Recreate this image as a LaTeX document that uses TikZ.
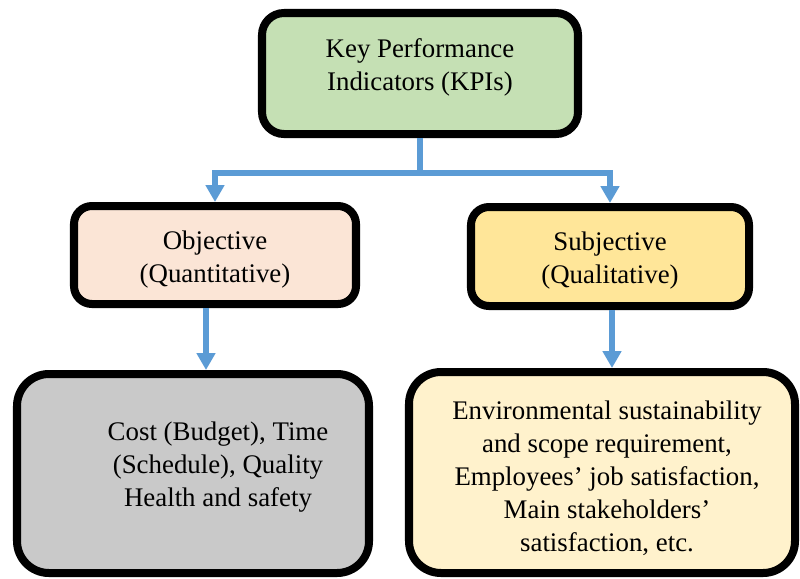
\documentclass[tikz,border=0pt]{standalone}
\usepackage{fontspec}
\setmainfont{Liberation Serif}
\usetikzlibrary{arrows.meta,positioning,calc}
\definecolor{kpigreen}{HTML}{C5E0B4}
\definecolor{objpeach}{HTML}{FBE5D6}
\definecolor{subjyellow}{HTML}{FFE699}
\definecolor{quantgrey}{HTML}{C9C9C9}
\definecolor{qualcream}{HTML}{FFF2CC}
\definecolor{linkblue}{HTML}{5B9BD5}
\tikzset{
	box/.style={draw=black, line width=5.7pt},
	boxtext/.style={align=center, font=\fontsize{19.1}{23.5}\selectfont},
	link/.style={draw=linkblue, line width=4.3pt},
	arrowline/.style={link, -{Triangle[length=4.2mm,width=4.5mm]}}
}

\begin{document}
\begin{tikzpicture}
	\useasboundingbox (0,0) rectangle (20,-14.45);
	% boxes
	\node[box, fill=kpigreen, rounded corners=0.55cm, minimum width=7.9cm, minimum height=3.025cm] (kpi) at (10.5,-1.8375) {};
	\node[box, fill=objpeach, rounded corners=0.45cm, minimum width=7.05cm, minimum height=2.45cm] (obj) at (5.375,-6.375) {};
	\node[box, fill=subjyellow, rounded corners=0.45cm, minimum width=6.95cm, minimum height=2.475cm] (subj) at (15.25,-6.4125) {};
	\node[box, fill=quantgrey, rounded corners=0.8cm, minimum width=8.8cm, minimum height=4.975cm] (quant) at (4.825,-11.8375) {};
	\node[box, fill=qualcream, rounded corners=0.8cm, minimum width=9.65cm, minimum height=5.025cm] (qual) at (15.05,-11.8125) {};
	% texts
	\node[boxtext] (kpitxt) at ([yshift=0.15cm]kpi.center) {Key Performance\\Indicators (KPIs)};
	\node[boxtext] (objtxt) at ([yshift=-0.125cm]obj.center) {Objective\\(Quantitative)};
	\node[boxtext] (subjtxt) at ([yshift=-0.1cm]subj.center) {Subjective\\(Qualitative)};
	\node[boxtext] (quanttxt) at (5.45,-11.675) {Cost (Budget), Time\\(Schedule), Quality\\Health and safety};
	\node[boxtext] (qualtxt) at ([xshift=0.125cm,yshift=-0.15cm]qual.center) {Environmental sustainability\\and scope requirement,\\Employees’ job satisfaction,\\Main stakeholders’\\satisfaction, etc.};
	% branches
	\draw[link] (kpi.south) -- ++(0,-0.875) coordinate (split);
	\draw[arrowline] (split) -| (obj.north);
	\draw[arrowline] (split) -| (subj.north);
	\draw[arrowline] ([xshift=-0.225cm]obj.south) -- ([xshift=-0.225cm]obj.south |- quant.north);
	\draw[arrowline] ([xshift=0.05cm]subj.south) -- ([xshift=0.05cm]subj.south |- qual.north);
\end{tikzpicture}
\end{document}
